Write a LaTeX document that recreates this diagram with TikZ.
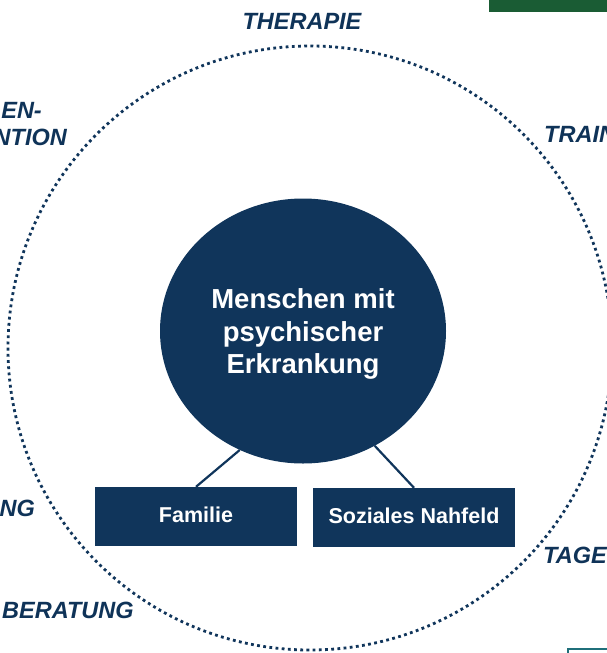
\documentclass[tikz,border=0pt]{standalone}
\usepackage{fontspec}
\setmainfont{Liberation Sans}
\usetikzlibrary{shapes.geometric}
\definecolor{navy}{HTML}{10355B}
\definecolor{labelnavy}{HTML}{0F3358}
\definecolor{topgreen}{HTML}{1A5C34}
\definecolor{tealline}{HTML}{1F6F7A}
\tikzset{
  core/.style={ellipse, fill=navy, minimum width=286pt, minimum height=265pt, inner sep=0pt},
  coretext/.style={text=white, inner sep=0pt, align=center, font=\fontsize{27.5}{32.5}\selectfont\bfseries},
  groupbox/.style={rectangle, fill=navy, text=white, minimum width=202pt, minimum height=59pt, inner sep=0pt, text depth=4pt, font=\fontsize{21.5}{25}\selectfont\bfseries},
  ringlabel/.style={text=labelnavy, inner sep=0pt, font=\fontsize{23.5}{28}\selectfont\bfseries\itshape},
  conn/.style={draw=navy, line width=2.2pt},
  ring/.style={draw=navy, line width=2.8pt, dash pattern=on 2.8pt off 3.4pt}
}
\begin{document}
\begin{tikzpicture}[x=1pt,y=-1pt]
\useasboundingbox (0,0) rectangle (607,653);
% decorative fragments at the edges
\fill[topgreen] (489,0) rectangle (607,12);
\coordinate (tl1) at (568,655);
\coordinate (tl2) at (568,649);
\coordinate (tl3) at (610,649);
\draw[tealline, line width=2pt] (tl1) -- (tl2) -- (tl3);
% dotted ring
\node[circle, ring, minimum size=604pt, inner sep=0pt] (ringc) at (310,348) {};
% ring labels
\node[ringlabel] (ther) at (302,21) {THERAPIE};
\node[ringlabel, anchor=west] (train) at (544,134) {TRAIN};
\node[ringlabel, anchor=east] (prev1) at (42,110) {EN-};
\node[ringlabel, anchor=east] (prev2) at (67,137) {NTION};
\node[ringlabel, anchor=east] (ng) at (35,508) {NG};
\node[ringlabel, anchor=west] (ber) at (2,610) {BERATUNG};
\node[ringlabel, anchor=west] (tage) at (543,555) {TAGE};
% core
\node[core] (c) at (303,331) {};
\node[coretext] (ct) at (303,334) {Menschen mit\\psychischer\\Erkrankung};
\node[groupbox] (fam) at (196,516.5) {Familie};
\node[groupbox] (nah) at (414,517.5) {Soziales Nahfeld};
\draw[conn] (fam.north) -- (c.242);
\draw[conn] (nah.north) -- (c.302);
\end{tikzpicture}
\end{document}
